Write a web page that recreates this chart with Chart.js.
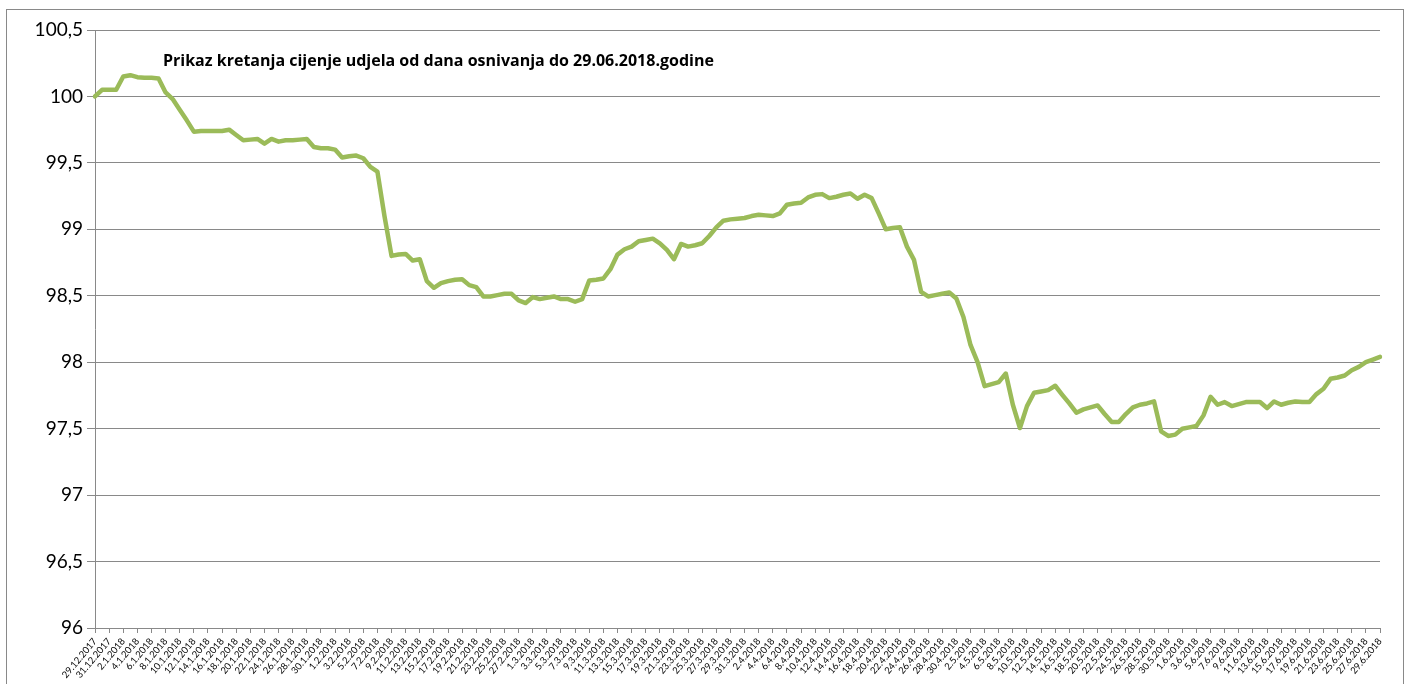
<!DOCTYPE html>
<html>
<head>
<meta charset="utf-8">
<script src="https://cdn.jsdelivr.net/npm/chart.js@4.4.1/dist/chart.umd.min.js"></script>
<style>
    html, body { margin: 0; padding: 0; background: #fff; }
</style>
</head>
<body>
<canvas id="udjelChart" width="1408" height="684"></canvas>
<script>
// naslov grafa
const chartTitle = 'Prikaz kretanja cijenje udjela od dana osnivanja do 29.06.2018.godine';

// dnevne vrijednosti udjela, po mjesecima
const dec2017 = [100.00, 100.05, 100.05];
const jan2018 = [100.05, 100.15, 100.16, 100.145, 100.14, 100.14, 100.135, 100.03, 99.98, 99.90,
    99.82, 99.735, 99.74, 99.74, 99.74, 99.74, 99.75, 99.71, 99.67, 99.675,
    99.68, 99.645, 99.68, 99.66, 99.67, 99.67, 99.675, 99.68, 99.62, 99.61, 99.61];
const feb2018 = [99.60, 99.54, 99.55, 99.555, 99.535, 99.47, 99.435, 99.10, 98.80, 98.81,
    98.815, 98.765, 98.775, 98.61, 98.56, 98.595, 98.61, 98.62, 98.625, 98.58,
    98.565, 98.495, 98.495, 98.505, 98.515, 98.515, 98.465, 98.445];
const mar2018 = [98.49, 98.475, 98.485, 98.495, 98.475, 98.475, 98.455, 98.475, 98.615, 98.62,
    98.63, 98.70, 98.81, 98.85, 98.87, 98.91, 98.92, 98.93, 98.895, 98.845,
    98.775, 98.89, 98.87, 98.88, 98.895, 98.95, 99.015, 99.065, 99.075, 99.08, 99.085];
const apr2018 = [99.10, 99.11, 99.105, 99.10, 99.12, 99.185, 99.195, 99.20, 99.24, 99.26,
    99.265, 99.235, 99.245, 99.26, 99.27, 99.23, 99.26, 99.235, 99.12, 99.00,
    99.01, 99.015, 98.87, 98.77, 98.53, 98.495, 98.505, 98.515, 98.525, 98.48];
const may2018 = [98.34, 98.13, 98.00, 97.82, 97.835, 97.85, 97.915, 97.68, 97.505, 97.67,
    97.77, 97.78, 97.79, 97.823, 97.755, 97.69, 97.62, 97.645, 97.66, 97.675,
    97.61, 97.55, 97.55, 97.61, 97.66, 97.68, 97.69, 97.705, 97.48, 97.445, 97.455];
const jun2018 = [97.50, 97.51, 97.52, 97.60, 97.74, 97.68, 97.70, 97.67, 97.685, 97.70,
    97.70, 97.70, 97.655, 97.705, 97.68, 97.695, 97.705, 97.70, 97.70, 97.76,
    97.80, 97.875, 97.885, 97.90, 97.94, 97.965, 98.00, 98.02, 98.04];

const values = [...dec2017, ...jan2018, ...feb2018, ...mar2018, ...apr2018, ...may2018, ...jun2018];

// kategorije: svaki dan od 29.12.2017
const firstDay = new Date(2017, 11, 29);
const categories = values.map((_, i) => {
    const d = new Date(firstDay.getFullYear(), firstDay.getMonth(), firstDay.getDate() + i);
    return `${d.getDate()}.${d.getMonth() + 1}.${d.getFullYear()}`;
});

const yTicks = [96, 96.5, 97, 97.5, 98, 98.5, 99, 99.5, 100, 100.5];
const yTickLabels = ['96', '96,5', '97', '97,5', '98', '98,5', '99', '99,5', '100', '100,5'];

const fontFamily = 'Lato, "Open Sans", sans-serif';
const gridColor = '#898989';

const frameAndTitle = {
    id: 'frameAndTitle',
    beforeDraw(chart) {
        const ctx = chart.ctx;
        ctx.save();
        ctx.fillStyle = '#fff';
        ctx.fillRect(0, 0, chart.width, chart.height);
        ctx.strokeStyle = gridColor;
        ctx.lineWidth = 1;
        ctx.strokeRect(6.5, 9.5, 1397, 700);
        ctx.restore();
    },
    afterDraw(chart) {
        const ctx = chart.ctx;
        const area = chart.chartArea;
        ctx.save();
        ctx.fillStyle = '#000';
        ctx.font = 'bold 16px "Open Sans", sans-serif';
        ctx.textBaseline = 'alphabetic';
        ctx.fillText(chartTitle, area.left + 68, area.top + 36);
        ctx.restore();
    },
};

new Chart(document.getElementById('udjelChart'), {
    type: 'line',
    data: {
        labels: categories,
        datasets: [{
            data: values,
            borderColor: '#9BBB59',
            borderWidth: 4.5,
            pointRadius: 0,
            tension: 0,
            borderJoinStyle: 'round',
            borderCapStyle: 'round',
        }],
    },
    options: {
        responsive: false,
        animation: false,
        layout: { padding: { top: 30, right: 28, bottom: 0, left: 0 } },
        plugins: { legend: { display: false }, tooltip: { enabled: false } },
        scales: {
            x: {
                offset: false,
                grid: { display: true, drawOnChartArea: false, drawTicks: true, tickLength: 5, color: gridColor },
                border: { color: gridColor },
                ticks: {
                    autoSkip: false,
                    minRotation: 50,
                    maxRotation: 50,
                    padding: 3,
                    color: '#000',
                    font: { size: 9.5, family: fontFamily },
                    callback: (value, index) => (index % 2 === 0 ? categories[index] : null),
                },
                afterFit: (scale) => { scale.height = 56; },
            },
            y: {
                min: yTicks[0],
                max: yTicks[yTicks.length - 1],
                afterBuildTicks: (scale) => { scale.ticks = yTicks.map((v) => ({ value: v })); },
                ticks: {
                    color: '#000',
                    padding: 4,
                    font: { size: 19, family: fontFamily },
                    callback: (value) => yTickLabels[yTicks.indexOf(value)],
                },
                grid: { color: gridColor, tickLength: 8 },
                border: { color: gridColor },
                afterFit: (scale) => { scale.width = 95; },
            },
        },
    },
    plugins: [frameAndTitle],
});
</script>
</body>
</html>
